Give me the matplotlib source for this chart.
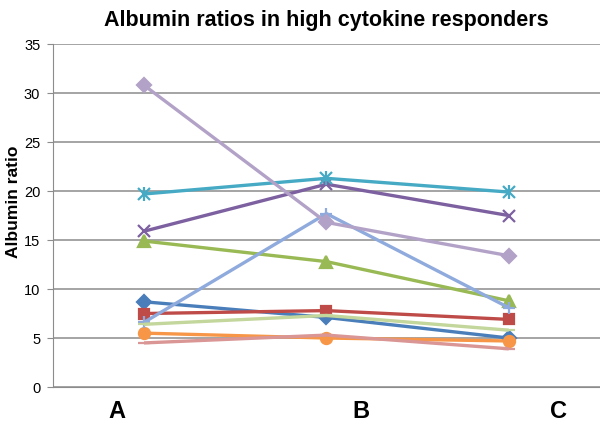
import matplotlib.pyplot as plt

# data (groups A, B, C)
groups = ["A", "B", "C"]
blue = [8.7, 7.1, 5.0]
red = [7.5, 7.8, 6.9]
green = [14.9, 12.8, 8.8]
purple = [15.9, 20.7, 17.5]
teal = [19.7, 21.3, 19.9]
orange = [5.5, 5.0, 4.7]
light_blue = [6.6, 17.7, 8.1]
pink = [4.5, 5.3, 3.9]
light_green = [6.4, 7.3, 5.8]
lavender = [30.8, 16.8, 13.4]

series = [
    (blue, "#4A7EBB", "D", 7),
    (red, "#BE4B48", "s", 7),
    (green, "#98B954", "^", 8),
    (purple, "#7D60A0", "x", 8),
    (teal, "#46AAC5", "x", 8),
    (orange, "#F79646", "o", 8),
    (light_blue, "#8FAADC", "+", 9),
    (pink, "#D99694", "_", 9),
    (light_green, "#C3D69B", "_", 9),
    (lavender, "#B3A2C7", "D", 7),
]

plt.rcParams['font.family'] = ['Liberation Sans', 'DejaVu Sans']

fig = plt.figure(figsize=(6, 4.26), dpi=100)
ax = fig.add_axes([0.088, 0.0915, 0.912, 0.805])

x = list(range(len(groups)))
for vals, col, mk, ms in series:
    ax.plot(x, vals, color=col, lw=2.4, marker=mk, markersize=ms,
            markeredgecolor=col, markerfacecolor=col, markeredgewidth=1.6,
            solid_capstyle='butt')
    if vals is teal:
        # Excel's star marker = x plus a vertical stroke
        ax.plot(x, vals, ls='none', marker='|', markersize=ms + 2,
                color=col, markeredgewidth=1.6)

ax.set_xlim(-0.5, 2.5)
ax.set_ylim(0, 35)
ax.set_yticks(range(0, 36, 5))
ax.yaxis.grid(True, color="#8C8C8C", lw=1.1)
ax.set_axisbelow(True)

# group labels sit a little off the category centres, as in the original
ax.set_xticks([-0.15, 1.19, 2.27])
ax.set_xticklabels(groups, fontsize=17, fontweight='bold')
ax.tick_params(axis='x', length=0, pad=9)
ax.tick_params(axis='y', length=4, color="#8C8C8C", labelsize=10.5, pad=5)

for s in ["top", "right"]:
    ax.spines[s].set_visible(False)
ax.spines["left"].set_color("#8C8C8C")
ax.spines["bottom"].set_color("#8C8C8C")

ax.set_ylabel("Albumin ratio", fontsize=12.5, fontweight='bold')
ax.yaxis.set_label_coords(-0.058, 0.54)
ax.set_title("Albumin ratios in high cytokine responders", fontsize=15.5,
             fontweight='bold', pad=13)

fig.savefig("out.png", dpi=100)
